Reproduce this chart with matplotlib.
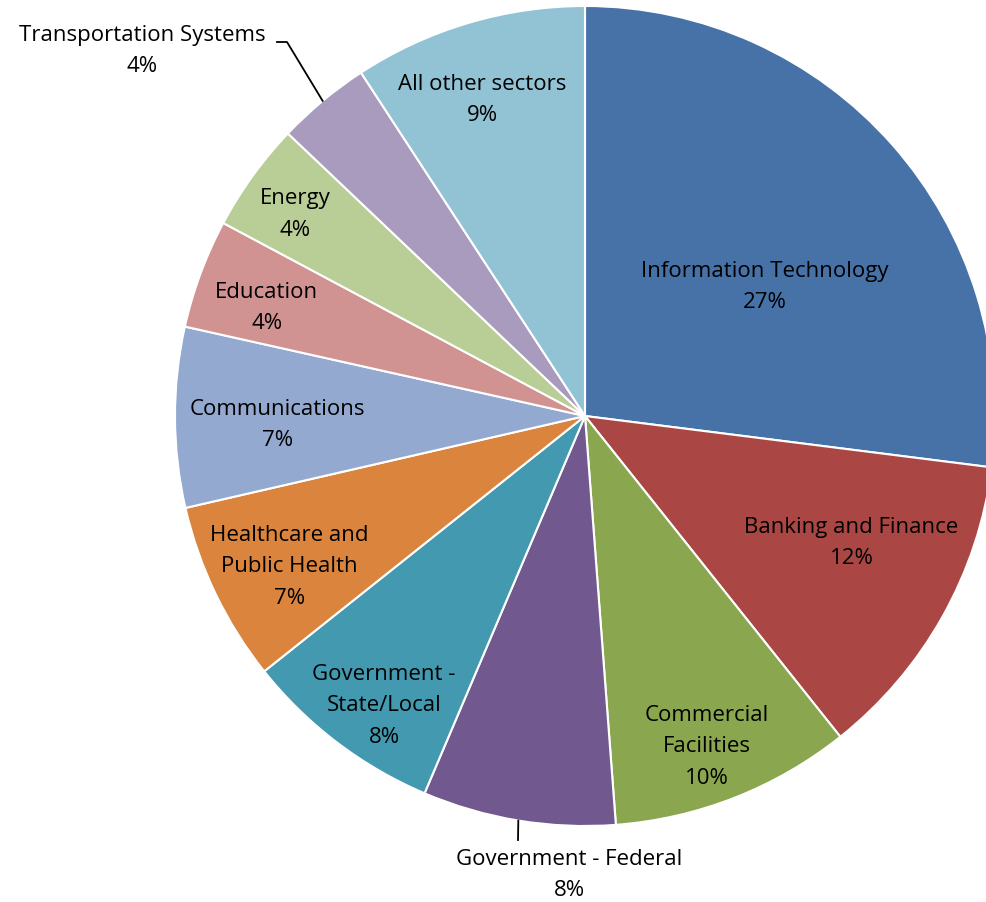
import numpy as np
import matplotlib
matplotlib.use("Agg")
import matplotlib.pyplot as plt

plt.rcParams['font.family'] = ['Open Sans', 'DejaVu Sans']

sectors = ["Information Technology", "Banking and Finance", "Commercial\nFacilities",
           "Government - Federal", "Government -\nState/Local", "Healthcare and\nPublic Health",
           "Communications", "Education", "Energy", "Transportation Systems", "All other sectors"]
shares = [27.0, 12.3, 9.5, 7.6, 7.9, 7.1, 7.1, 4.3, 4.3, 3.7, 9.2]
colors = ["#4672A8", "#AA4744", "#8AA64F", "#71598F", "#4299B0", "#DB843D",
          "#93A9D0", "#D19392", "#B9CD97", "#A99BBD", "#92C3D5"]

# label placement: (radius fraction, angle nudge in degrees); None = outside label
label_pos = [(0.54, -5.8), (0.72, 3.9), (0.86, -1.2), None, (0.86, 2.5), (0.81, 1.3),
             (0.75, 1.5), (0.82, 1.6), (0.86, 1.0), None, (0.81, 1.4)]
# outside labels: text centre and elbow points of the leader line
outside = {3: dict(text=(569, 27), elbow=[(518, 62)]),
           9: dict(text=(142, 851), elbow=[(287, 860), (277, 860)])}

W, H = 986, 902
cx, cy, R = 585, H - 416, 410
FS = 16
LS = 1.65

fig = plt.figure(figsize=(W / 100, H / 100), dpi=100)
ax = fig.add_axes([0, 0, 1, 1])

explode = [0.012] + [0] * (len(shares) - 1)
ax.pie(shares, colors=colors, startangle=90, counterclock=False,
       center=(cx, cy), radius=R, explode=explode,
       wedgeprops=dict(edgecolor="white", linewidth=1.5))
ax.set_xlim(0, W)
ax.set_ylim(0, H)
ax.set_aspect("equal")
ax.axis("off")

total = sum(shares)
cum = 0
for i, (name, val) in enumerate(zip(sectors, shares)):
    mid = 90 - (cum + val / 2) / total * 360
    cum += val
    text = f"{name}\n{val / total * 100:.0f}%"
    if label_pos[i] is not None:
        frac, nudge = label_pos[i]
        a = np.radians(mid + nudge)
        x, y = cx + frac * R * np.cos(a), cy + frac * R * np.sin(a)
        ax.text(x, y, text, ha="center", va="center", fontsize=FS,
                linespacing=LS, color="black")
    else:
        o = outside[i]
        a = np.radians(mid)
        start = (cx + R * np.cos(a), cy + R * np.sin(a))
        xs, ys = zip(*([start] + o["elbow"]))
        ax.plot(xs, ys, color="black", linewidth=1.3)
        ax.text(o["text"][0], o["text"][1], text, ha="center", va="center",
                fontsize=FS, linespacing=LS, color="black")

fig.savefig("out.png", dpi=100)
